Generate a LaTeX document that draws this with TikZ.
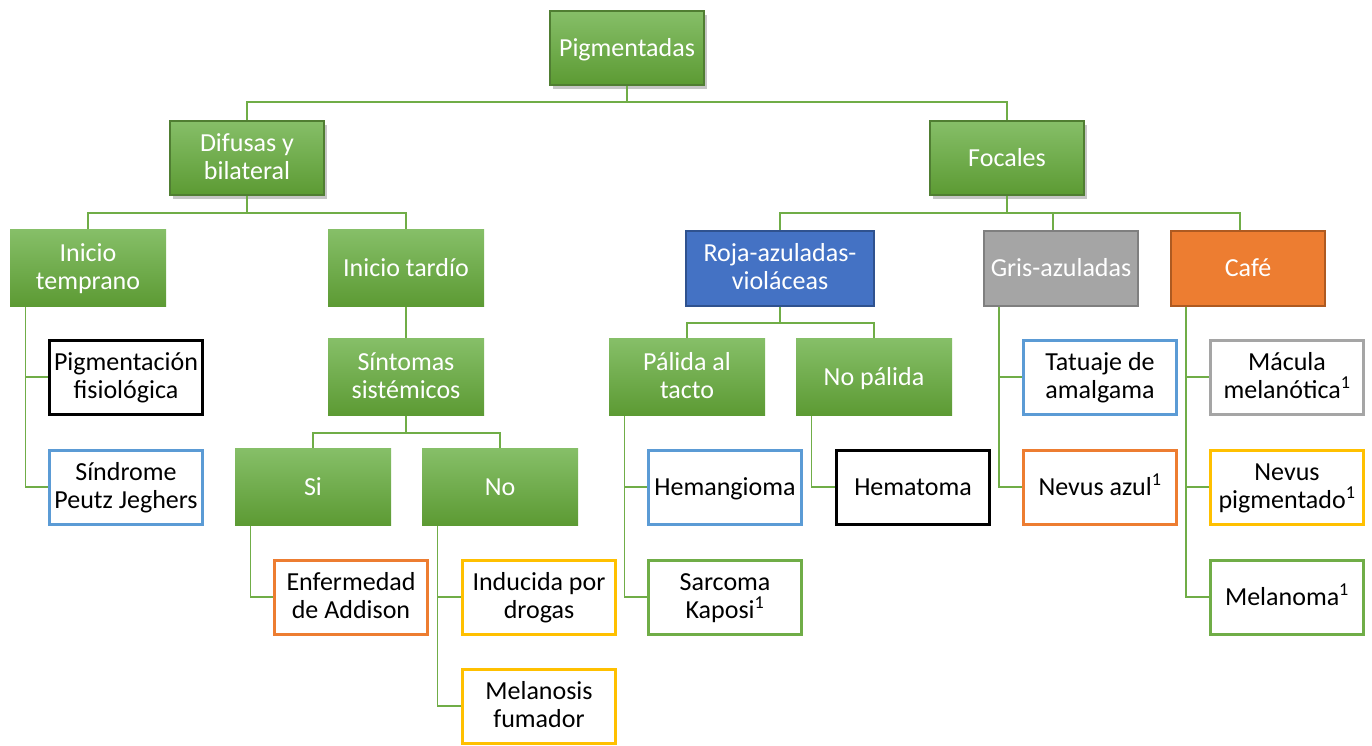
\documentclass[tikz,border=0pt]{standalone}
\usepackage{fontspec}
\setmainfont{Carlito}
\usetikzlibrary{shadows}
\definecolor{verde}{HTML}{70AD47}
\definecolor{verdeclaro}{HTML}{86BF68}
\definecolor{verdeoscuro}{HTML}{5C9A33}
\definecolor{borde}{HTML}{507E32}
\definecolor{azul}{HTML}{4472C4}
\definecolor{azulborde}{HTML}{2F528F}
\definecolor{celeste}{HTML}{5B9BD5}
\definecolor{naranja}{HTML}{ED7D31}
\definecolor{naranjaborde}{HTML}{AE5A21}
\definecolor{gris}{HTML}{A5A5A5}
\definecolor{grisborde}{HTML}{7F7F7F}
\definecolor{amarillo}{HTML}{FFC000}
\tikzset{
  caja/.style={minimum width=156, minimum height=77, inner sep=0pt, align=center,
    font=\fontsize{26}{28}\selectfont,
    execute at begin node={\rule{0pt}{23pt}},
    execute at end node={\rule[-7pt]{0pt}{7pt}}},
  dos/.style={execute at begin node={\rule{0pt}{49pt}}},
  verdebox/.style={caja, top color=verdeclaro, bottom color=verdeoscuro, text=white},
  raiz/.style={verdebox, draw=borde, line width=1.5pt, minimum width=154, minimum height=74,
    drop shadow={shadow xshift=3pt, shadow yshift=-4pt, opacity=.45}},
  solida/.style={caja, fill=#1, draw=#1borde, line width=2pt, text=white,
    minimum width=154, minimum height=75},
  hoja/.style={caja, draw=#1, line width=3pt, fill=white, text=black,
    minimum width=153, minimum height=74},
  link/.style={draw=verde, line width=1.3pt}
}
\begin{document}
\begin{tikzpicture}[x=1pt, y=-1pt]
  \useasboundingbox (0,0) rectangle (1372,745);
  % ── niveles superiores ─────────────────────────────
  \node[raiz] (pig) at (627,48) {Pigmentadas};
  \node[raiz, dos] (dif) at (247,158) {Difusas y\\bilateral};
  \node[raiz] (foc) at (1007,158) {Focales};
  % ── difusas ────────────────────────────────────────
  \node[verdebox, dos] (itemp) at (88,268) {Inicio\\temprano};
  \node[verdebox] (itard) at (406,268) {Inicio tardío};
  \node[hoja=black, dos] (pfis) at (126,377) {Pigmentación\\fisiológica};
  \node[hoja=celeste, dos] (sind) at (126,487) {Síndrome\\Peutz Jeghers};
  \node[verdebox, dos] (sint) at (406,377) {Síntomas\\sistémicos};
  \node[verdebox] (si) at (313,487) {Si};
  \node[verdebox] (no) at (500,487) {No};
  \node[hoja=naranja, dos] (addi) at (351,597) {Enfermedad\\de Addison};
  \node[hoja=amarillo, dos] (indu) at (539,597) {Inducida por\\drogas};
  \node[hoja=amarillo, dos] (meln) at (539,706) {Melanosis\\fumador};
  % ── focales ────────────────────────────────────────
  \node[solida=azul, dos, minimum width=188] (roja) at (780,268) {Roja-azuladas-\\violáceas};
  \node[solida=gris] (gris) at (1061,268) {Gris-azuladas};
  \node[solida=naranja] (cafe) at (1248,268) {Café};
  \node[verdebox, dos] (pali) at (687,377) {Pálida al\\tacto};
  \node[verdebox] (nopa) at (874,377) {No pálida};
  \node[hoja=celeste] (hema) at (725,487) {Hemangioma};
  \node[hoja=verde, dos] (sarc) at (725,597) {Sarcoma\\Kaposi\textsuperscript{1}};
  \node[hoja=black] (hmt) at (913,487) {Hematoma};
  \node[hoja=celeste, dos] (tatu) at (1100,377) {Tatuaje de\\amalgama};
  \node[hoja=naranja] (nazu) at (1100,487) {Nevus azul\textsuperscript{1}};
  \node[hoja=gris, dos] (macu) at (1287,377) {Mácula\\melanótica\textsuperscript{1}};
  \node[hoja=amarillo, dos] (npig) at (1287,487) {Nevus\\pigmentado\textsuperscript{1}};
  \node[hoja=verde] (mela) at (1287,597) {Melanoma\textsuperscript{1}};
  % ── conectores en árbol ────────────────────────────
  \draw[link] (pig.south) -- (pig.south |- 0,102) -| (dif.north);
  \draw[link] (pig.south |- 0,102) -| (foc.north);
  \draw[link] (dif.south) -- (dif.south |- 0,213) -| (itemp.north);
  \draw[link] (dif.south |- 0,213) -| (itard.north);
  \draw[link] (itard.south) -- (sint.north);
  \draw[link] (sint.south) -- (sint.south |- 0,433) -| (si.north);
  \draw[link] (sint.south |- 0,433) -| (no.north);
  \draw[link] (foc.south) -- (foc.south |- 0,213) -| (roja.north);
  \draw[link] (foc.south |- 0,213) -| ([xshift=-8]gris.north);
  \draw[link] (foc.south |- 0,213) -| ([xshift=-8]cafe.north);
  \draw[link] (roja.south) -- (roja.south |- 0,323) -| (pali.north);
  \draw[link] (roja.south |- 0,323) -| (nopa.north);
  % conectores laterales
  \foreach \p/\c in {itemp/pfis, itemp/sind, si/addi, no/indu, no/meln,
                     pali/hema, pali/sarc, nopa/hmt, gris/tatu, gris/nazu,
                     cafe/macu, cafe/npig, cafe/mela} {
    \draw[link] ([xshift=16]\p.south west) |- (\c.west);
  }
\end{tikzpicture}
\end{document}
